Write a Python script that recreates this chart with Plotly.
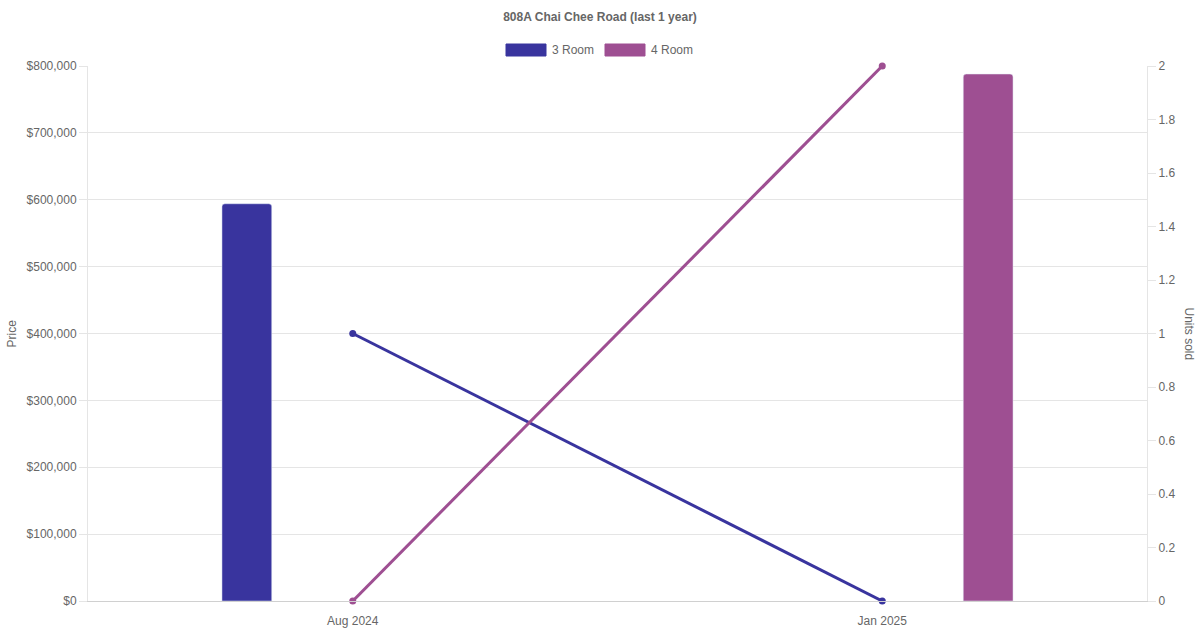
import plotly.graph_objects as go

months = ["Aug 2024", "Jan 2025"]
room_types = ["3 Room", "4 Room"]
price_3room = [594000, None]
price_4room = [None, 788000]
units_3room = [1, 0]
units_4room = [0, 2]
colors = {"3 Room": "#39349e", "4 Room": "#9e4f92"}

grid = "#e5e5e5"
txt = "#666666"
font_family = "Liberation Sans, Arial, Helvetica, sans-serif"

fig = go.Figure()

bar_w = 0.094
fig.add_trace(go.Bar(x=months, y=price_3room, name="3 Room", marker_color=colors["3 Room"],
                     width=bar_w, offset=-0.2 - bar_w / 2, yaxis="y", showlegend=False))
fig.add_trace(go.Bar(x=months, y=price_4room, name="4 Room", marker_color=colors["4 Room"],
                     width=bar_w, offset=0.2 - bar_w / 2, yaxis="y", showlegend=False))

fig.add_trace(go.Scatter(x=months, y=units_3room, name="3 Room", mode="lines+markers",
                         line=dict(color=colors["3 Room"], width=3), marker=dict(size=7, color=colors["3 Room"]),
                         yaxis="y2", cliponaxis=False, showlegend=False))
fig.add_trace(go.Scatter(x=months, y=units_4room, name="4 Room", mode="lines+markers",
                         line=dict(color=colors["4 Room"], width=3), marker=dict(size=7, color=colors["4 Room"]),
                         yaxis="y2", cliponaxis=False, showlegend=False))

W, H = 1200, 630
ml, mr, mt, mb = 88, 53, 66, 29
pw, ph = W - ml - mr, H - mt - mb


def px_x(px):
    return (px - ml) / pw


def px_y(py):
    return (H - mb - py) / ph


shapes = []
annotations = []
# manual legend
legend_items = [("3 Room", 506), ("4 Room", 605)]
for name, x0 in legend_items:
    shapes.append(dict(type="rect", xref="paper", yref="paper",
                       x0=px_x(x0), x1=px_x(x0 + 40), y0=px_y(56), y1=px_y(44),
                       fillcolor=colors[name], line=dict(width=1, color=colors[name])))
    annotations.append(dict(text=name, xref="paper", yref="paper", x=px_x(x0 + 44), y=px_y(50),
                            xanchor="left", yanchor="middle", showarrow=False,
                            font=dict(size=12, color=txt, family=font_family)))

annotations.append(dict(text="Price", xref="paper", yref="paper", x=px_x(11), y=0.5,
                        xanchor="center", yanchor="middle", textangle=-90, showarrow=False,
                        font=dict(size=12, color=txt, family=font_family)))
annotations.append(dict(text="Units sold", xref="paper", yref="paper", x=px_x(1189), y=0.5,
                        xanchor="center", yanchor="middle", textangle=90, showarrow=False,
                        font=dict(size=12, color=txt, family=font_family)))

fig.update_layout(
    width=W, height=H,
    margin=dict(l=ml, r=mr, t=mt, b=mb, pad=0, autoexpand=False),
    paper_bgcolor="white", plot_bgcolor="white",
    font=dict(family=font_family, size=12, color=txt),
    title=dict(text="<b>808A Chai Chee Road (last 1 year)</b>", x=0.5, xref="container",
               y=1 - 17 / H, yref="container", yanchor="middle",
               font=dict(size=12, color=txt, family=font_family)),
    barmode="overlay",
    barcornerradius=3,
    xaxis=dict(type="category", range=[-0.5, 1.5], showgrid=False, zeroline=False,
               showline=True, linecolor="#d0d0d0", linewidth=1, automargin=False,
               ticks="outside", ticklen=9, tickcolor="rgba(0,0,0,0)",
               tickfont=dict(size=12, color=txt)),
    yaxis=dict(range=[0, 800000], dtick=100000, tickprefix="$", tickformat=",",
               showgrid=True, gridcolor=grid, gridwidth=1, zeroline=False,
               showline=True, linecolor=grid, linewidth=1, automargin=False,
               ticks="outside", ticklen=8, tickcolor=grid,
               tickfont=dict(size=12, color=txt)),
    yaxis2=dict(range=[0, 2], dtick=0.2, overlaying="y", side="right",
                showgrid=False, zeroline=False, automargin=False,
                showline=True, linecolor=grid, linewidth=1,
                ticks="outside", ticklen=8, tickcolor=grid,
                tickfont=dict(size=12, color=txt)),
    shapes=shapes,
    annotations=annotations,
    showlegend=False,
)

fig.write_html("out.html", config={"displayModeBar": False},
               post_script="document.body.style.margin='0';document.body.style.overflow='hidden';")
